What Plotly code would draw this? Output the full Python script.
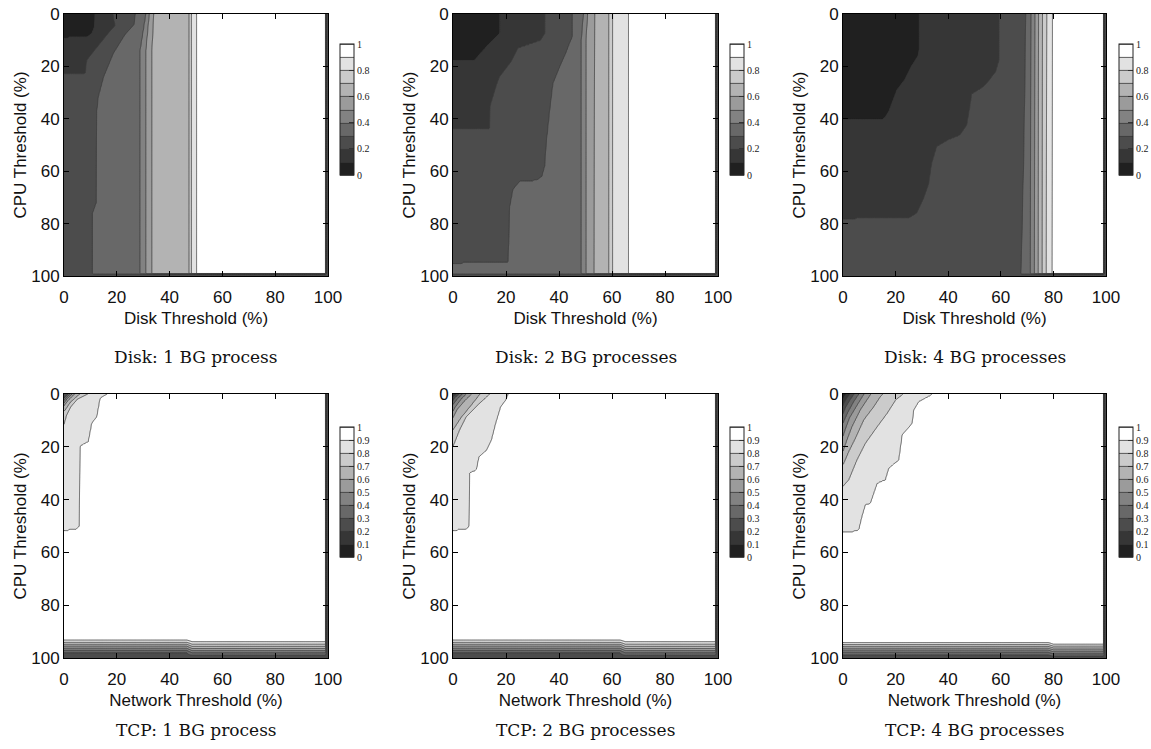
import numpy as np
import plotly.graph_objects as go

# ---------------------------------------------------------------- data ----
LEVELS = [0.1, 0.2, 0.3, 0.4, 0.5, 0.6, 0.7, 0.8, 0.9]
BAND_COLORS = ['#202020', '#363636', '#4c4c4c', '#686868', '#828282',
               '#9b9b9b', '#b3b3b3', '#cbcbcb', '#e2e2e2', '#ffffff']
ABSENT = -5.0          # the level does not occur in that row
EDGE_VALUE = 0.25      # value along the 100 % column / row
RIGHT_EDGE = 99.5
DISK_BOTTOM_EDGE = 99.5

# Each level boundary: list of (CPU threshold %, x threshold %) points
# Disk: 1 BG process
DISK1_L1 = [(0, 11.7), (5, 11.5), (7.5, 10.5), (8.9, 8.5), (9.1, ABSENT)]
DISK1_L2 = [(0, 18.5), (4.5, 19.3), (7, 17), (12, 13), (17.6, 8.6), (22.6, 8.0), (22.8, ABSENT)]
DISK1_L3 = [(0, 27), (4, 26.5), (8, 23), (15, 18.7), (24, 15), (31.6, 13), (37, 12.4),
            (72, 12.2), (76, 10.8), (98, 10.8)]
DISK1_L4 = [(0, 31.0), (14, 28.8), (100, 28.8)]
DISK1_L5 = [(0, 32.3), (14, 31.0), (100, 31.0)]
DISK1_L6 = [(0, 34.0), (14, 33.3), (100, 33.3)]
DISK1_L7 = [(0, 47.4), (100, 47.4)]
DISK1_L8 = [(0, 48.3), (100, 48.3)]
DISK1_L9 = [(0, 50.2), (100, 50.2)]

# Disk: 2 BG processes
DISK2_L1 = [(0, 17.6), (7.4, 17.6), (12, 13), (17.5, 8.2), (17.7, ABSENT)]
DISK2_L2 = [(0, 34.6), (7.4, 34.6), (10, 33), (13, 24.5), (18, 22), (24, 17.5), (27, 16.4),
            (35, 14), (43.6, 13.8), (43.8, ABSENT)]
DISK2_L3 = [(0, 45), (8.7, 45), (11, 44), (15, 42.5), (20, 40.3), (26.5, 37.7), (36.6, 36.5),
            (49, 35.2), (58, 34.6), (62, 33.5), (63.4, 31.5), (64, 25), (67, 22.6),
            (73.5, 21.4), (94.8, 20.8), (95.1, ABSENT)]
DISK2_L4 = [(0, 49.2), (10, 48.4), (100, 48.4)]
DISK2_L5 = [(0, 50.8), (10, 50.2), (100, 50.2)]
DISK2_L6 = [(0, 53.5), (100, 53.2)]
DISK2_L7 = [(0, 58.8), (100, 58.8)]
DISK2_L8 = [(0, 60.2), (100, 60.2)]
DISK2_L9 = [(0, 66.2), (100, 66.2)]

# Disk: 4 BG processes
DISK4_L1 = [(0, 29), (13.7, 29), (16, 28.5), (20, 26), (25, 23.5), (29, 20.5), (33, 19),
            (37, 17.5), (39.5, 16), (40.3, 14.8), (40.5, ABSENT)]
DISK4_L2 = [(0, 59.3), (17.6, 59.3), (22, 58), (26, 55), (28, 53), (30.5, 48.9), (35.4, 48.2),
            (42.4, 47), (46.2, 44.4), (48, 40), (50.6, 35.6), (57, 33.7), (65, 32.5),
            (70.4, 30.6), (76, 28), (77.8, 25), (78.1, ABSENT)]
DISK4_L3 = [(0, 69.5), (50, 68.8), (95, 67.8), (100, 67.5)]
DISK4_L4 = [(0, 71.5), (100, 71.2)]
DISK4_L5 = [(0, 73.0), (100, 72.8)]
DISK4_L6 = [(0, 74.4), (100, 74.2)]
DISK4_L7 = [(0, 75.9), (100, 75.7)]
DISK4_L8 = [(0, 77.5), (100, 77.3)]
DISK4_L9 = [(0, 79.6), (100, 79.5)]

# TCP: 1 BG process
TCP1_L1 = None
TCP1_L2 = None
TCP1_L3 = [(0, 1.5), (1.5, 0), (1.8, ABSENT)]
TCP1_L4 = [(0, 2.2), (1.5, 0.8), (2.5, 0), (2.8, ABSENT)]
TCP1_L5 = [(0, 3.0), (2, 1.0), (3.5, 0), (3.8, ABSENT)]
TCP1_L6 = [(0, 4.0), (2.5, 1.5), (4.5, 0), (4.8, ABSENT)]
TCP1_L7 = [(0, 6.0), (3, 2.5), (6, 0.5), (6.5, 0), (6.8, ABSENT)]
TCP1_L8 = [(0, 9.0), (2, 5.0), (5, 2.5), (8, 1.0), (11.5, 0), (11.8, ABSENT)]
TCP1_L9 = [(0, 16.4), (1.3, 14), (2, 13.6), (8.6, 12.4), (11.1, 10.5), (18, 9.2), (19.7, 6.1),
           (50.2, 5.8), (51.2, 4.5), (51.7, 0), (52.0, ABSENT)]
TCP1_BOTTOM_LEFT = [93.2, 94.1, 94.8, 95.5, 96.3, 97.1, 98.0]
TCP1_BOTTOM_RIGHT = [93.8, 94.8, 95.6, 96.4, 97.2, 98.0, 98.9]
TCP1_BOTTOM_SPLIT = 47.5

# TCP: 2 BG processes
TCP2_L1 = None
TCP2_L2 = [(0, 1.2), (1, 0), (1.3, ABSENT)]
TCP2_L3 = [(0, 2.2), (1.5, 0.5), (2.5, 0), (2.8, ABSENT)]
TCP2_L4 = [(0, 3.5), (2, 1.5), (4, 0), (4.3, ABSENT)]
TCP2_L5 = [(0, 5.0), (2, 3.0), (5, 0.8), (6.5, 0), (6.8, ABSENT)]
TCP2_L6 = [(0, 7.0), (3, 4.0), (6, 1.5), (9, 0), (9.3, ABSENT)]
TCP2_L7 = [(0, 10.2), (4.2, 6.9), (9, 3), (13.6, 0), (13.9, ABSENT)]
TCP2_L8 = [(0, 13.9), (3.5, 10), (8.6, 5), (13.6, 2.5), (19.9, 0), (20.2, ABSENT)]
TCP2_L9 = [(0, 20.8), (2.3, 19.9), (4.8, 18), (11.1, 16.1), (17.4, 14.5), (21.4, 12.6),
           (23.7, 9.8), (28.8, 8.8), (29.8, 6.3), (50.2, 6.0), (51.1, 5), (51.7, 0),
           (52.0, ABSENT)]
TCP2_BOTTOM_LEFT = [93.2, 94.1, 94.8, 95.5, 96.3, 97.1, 98.0]
TCP2_BOTTOM_RIGHT = [93.8, 94.8, 95.6, 96.4, 97.2, 98.0, 98.9]
TCP2_BOTTOM_SPLIT = 64.0

# TCP: 4 BG processes
TCP4_L1 = [(0, 1.2), (1, 0.5), (2, 0), (2.3, ABSENT)]
TCP4_L2 = [(0, 2.6), (1.5, 1.5), (3.5, 0.3), (4.5, 0), (4.8, ABSENT)]
TCP4_L3 = [(0, 4.2), (2.5, 2.5), (5, 1), (7.5, 0), (7.8, ABSENT)]
TCP4_L4 = [(0, 6.0), (3, 4.0), (7, 1.8), (11, 0), (11.3, ABSENT)]
TCP4_L5 = [(0, 8.0), (4, 5.5), (9, 2.5), (13, 1), (16, 0), (16.3, ABSENT)]
TCP4_L6 = [(0, 10.6), (6, 6.6), (12.4, 3.4), (17.4, 1.5), (21.8, 0), (22.1, ABSENT)]
TCP4_L7 = [(0, 15.1), (1, 14.2), (4.8, 11.7), (9.8, 7.9), (16.8, 4.7), (21.8, 2.2),
           (26.9, 0), (27.2, ABSENT)]
TCP4_L8 = [(0, 22.8), (2.3, 20), (7.3, 16.8), (12.4, 13), (18.7, 8.5), (25, 5.3),
           (32.5, 2.2), (35, 0), (35.3, ABSENT)]
TCP4_L9 = [(0, 33.8), (0.4, 33.5), (2.9, 28.8), (6.1, 26.9), (11.1, 26.3), (15.5, 22.5),
           (25, 21.2), (28.1, 17.4), (32.5, 16.1), (33.8, 13), (41.4, 10.4), (42, 8.5),
           (46.4, 7.2), (51.4, 6), (52, 4), (52.2, 0), (52.5, ABSENT)]
TCP4_BOTTOM_LEFT = [94.2, 94.9, 95.6, 96.3, 97.0, 97.8, 98.7]
TCP4_BOTTOM_RIGHT = [94.8, 95.5, 96.2, 96.9, 97.6, 98.4, 99.2]
TCP4_BOTTOM_SPLIT = 79.0

PANEL_TITLES = ['Disk: 1 BG process', 'Disk: 2 BG processes', 'Disk: 4 BG processes',
                'TCP: 1 BG process', 'TCP: 2 BG processes', 'TCP: 4 BG processes']
X_TITLES = ['Disk Threshold (%)'] * 3 + ['Network Threshold (%)'] * 3
Y_TITLE = 'CPU Threshold (%)'
AXIS_TICKS = [0, 20, 40, 60, 80, 100]

# ------------------------------------------------------------- build -----
XS = np.round(np.arange(0, 100.0001, 0.5), 3)
YS = XS.copy()
RAMP = 0.5


def boundary(points):
    if points is None:
        return np.full(YS.shape, ABSENT)
    py = [p[0] for p in points]
    px = [p[1] for p in points]
    return np.interp(YS, py, px)


def bottom_profile(ys):
    yy = [0, ys[0] - 0.5] + list(ys) + [100]
    vv = [0.95, 0.95] + LEVELS[::-1][:len(ys)] + [EDGE_VALUE]
    return np.interp(YS, yy, vv)[:, None]


def build_z(levels, bottom_left=None, bottom_right=None, split=None, bottom_edge=None):
    X, Y = np.meshgrid(XS, YS)
    z = np.full(X.shape, 0.05)
    for pts in levels:
        b = boundary(pts)[:, None]
        z = z + 0.1 * np.clip((X - b) / RAMP + 0.5, 0, 1)
    if bottom_left is not None:
        t = np.clip((X - split + 1) / 2, 0, 1)
        zb = (1 - t) * bottom_profile(bottom_left) + t * bottom_profile(bottom_right)
        z = np.minimum(z, zb)
    if bottom_edge is not None:
        z[YS >= bottom_edge, :] = np.minimum(z[YS >= bottom_edge, :], EDGE_VALUE)
    z[:, XS >= RIGHT_EDGE] = EDGE_VALUE
    return np.round(z, 4)


Z = [
    build_z([DISK1_L1, DISK1_L2, DISK1_L3, DISK1_L4, DISK1_L5, DISK1_L6, DISK1_L7, DISK1_L8, DISK1_L9],
            bottom_edge=DISK_BOTTOM_EDGE),
    build_z([DISK2_L1, DISK2_L2, DISK2_L3, DISK2_L4, DISK2_L5, DISK2_L6, DISK2_L7, DISK2_L8, DISK2_L9],
            bottom_edge=DISK_BOTTOM_EDGE),
    build_z([DISK4_L1, DISK4_L2, DISK4_L3, DISK4_L4, DISK4_L5, DISK4_L6, DISK4_L7, DISK4_L8, DISK4_L9],
            bottom_edge=DISK_BOTTOM_EDGE),
    build_z([TCP1_L1, TCP1_L2, TCP1_L3, TCP1_L4, TCP1_L5, TCP1_L6, TCP1_L7, TCP1_L8, TCP1_L9],
            TCP1_BOTTOM_LEFT, TCP1_BOTTOM_RIGHT, TCP1_BOTTOM_SPLIT),
    build_z([TCP2_L1, TCP2_L2, TCP2_L3, TCP2_L4, TCP2_L5, TCP2_L6, TCP2_L7, TCP2_L8, TCP2_L9],
            TCP2_BOTTOM_LEFT, TCP2_BOTTOM_RIGHT, TCP2_BOTTOM_SPLIT),
    build_z([TCP4_L1, TCP4_L2, TCP4_L3, TCP4_L4, TCP4_L5, TCP4_L6, TCP4_L7, TCP4_L8, TCP4_L9],
            TCP4_BOTTOM_LEFT, TCP4_BOTTOM_RIGHT, TCP4_BOTTOM_SPLIT),
]

W, H = 1151, 749
COL_PX = [(64, 328), (453, 718), (843, 1106)]
ROW_PX = [(14, 276), (394, 658)]
CB_X_PX = [340, 730, 1119]
CB_Y_PX = [(44, 175), (427, 557)]

colorscale = []
for k, c in enumerate(BAND_COLORS):
    colorscale.append([k / 10, c])
    colorscale.append([(k + 1) / 10, c])

SANS = 'Liberation Sans, Arial, sans-serif'
SERIF = 'Liberation Serif, Times New Roman, serif'

fig = go.Figure()
layout = dict(width=W, height=H,
              margin=dict(l=0, r=0, t=0, b=0, pad=0, autoexpand=False), autosize=False,
              paper_bgcolor='white', plot_bgcolor='white', showlegend=False,
              annotations=[])

for i in range(6):
    r, c = divmod(i, 3)
    n = '' if i == 0 else str(i + 1)
    x0, x1 = COL_PX[c]
    y0, y1 = ROW_PX[r]
    cb_top, cb_bot = CB_Y_PX[r]
    fig.add_trace(go.Contour(
        x=XS, y=YS, z=Z[i], xaxis='x' + n, yaxis='y' + n,
        zmin=0, zmax=1, autocontour=False,
        contours=dict(start=0, end=1, size=0.1, coloring='fill', showlines=True),
        line=dict(color='#3a3a3a', width=0.8, smoothing=0),
        colorscale=colorscale, showscale=True, hoverinfo='skip',
        colorbar=dict(
            x=CB_X_PX[c] / W, xanchor='left', xpad=0,
            y=1 - (cb_top + cb_bot) / 2 / H, yanchor='middle', ypad=0,
            len=cb_bot - cb_top, lenmode='pixels', thickness=14, thicknessmode='pixels',
            outlinewidth=1, outlinecolor='#222',
            tickmode='linear', tick0=0, dtick=0.2 if r == 0 else 0.1,
            ticks='inside', ticklen=5, tickcolor='#333', tickwidth=1,
            tickfont=dict(family=SERIF, size=10, color='#222'),
        ),
    ))
    axis_common = dict(showgrid=False, zeroline=False, showline=True, linecolor='black',
                       linewidth=1, mirror='allticks', ticks='inside', ticklen=5,
                       tickcolor='black', tickmode='array', tickvals=AXIS_TICKS,
                       automargin=False,
                       tickfont=dict(family=SANS, size=17, color='#111'))
    layout['xaxis' + n] = dict(axis_common, domain=[x0 / W, x1 / W], range=[0, 100],
                               anchor='y' + n, ticklabelstandoff=6,
                               title=dict(text=X_TITLES[i], standoff=5,
                                          font=dict(family=SANS, size=17, color='#111')))
    layout['yaxis' + n] = dict(axis_common, domain=[1 - y1 / H, 1 - y0 / H], range=[100, 0],
                               anchor='x' + n, ticklabelstandoff=0,
                               title=dict(text=Y_TITLE, standoff=0,
                                          font=dict(family=SANS, size=17, color='#111')))
    layout['annotations'].append(dict(
        text=PANEL_TITLES[i], xref='paper', yref='paper', showarrow=False,
        x=(x0 + x1) / 2 / W, y=1 - (357 if r == 0 else 730) / H,
        xanchor='center', yanchor='middle',
        font=dict(family='DejaVu Serif, serif', size=17, color='#111')))

fig.update_layout(**layout)
fig.write_html('out.html', config={'displayModeBar': False},
               post_script="document.body.style.margin='0';"
                           "document.body.style.overflow='hidden';")
